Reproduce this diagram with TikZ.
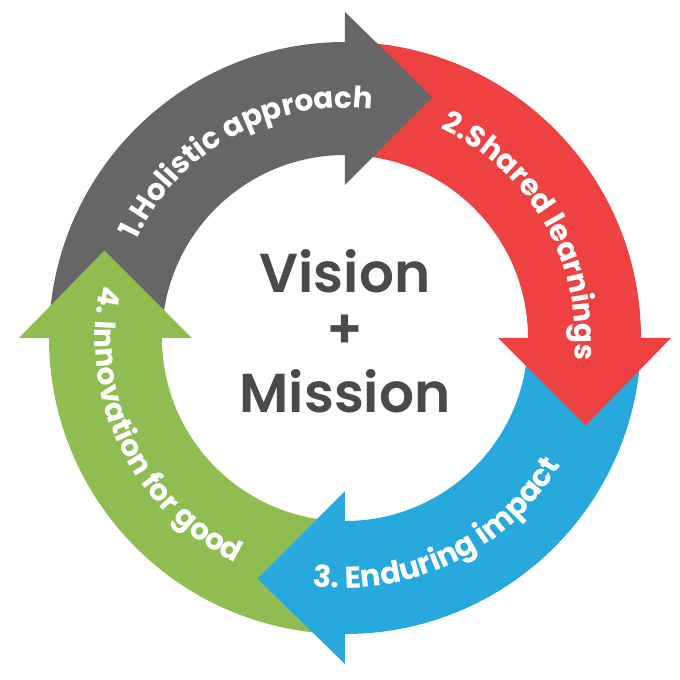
\documentclass[tikz,border=0pt]{standalone}
\usepackage{fontspec}
\setmainfont{Poppins}
\newfontfamily\ringfont{Poppins SemiBold}
\usetikzlibrary{decorations.text}
\definecolor{ringgray}{HTML}{666666}
\definecolor{ringred}{HTML}{EE4242}
\definecolor{ringblue}{HTML}{27A9DE}
\definecolor{ringgreen}{HTML}{8FBD52}
\definecolor{ink}{HTML}{4A4A4A}

\begin{document}
\begin{tikzpicture}[font=\ringfont,
  arctext/.style={decorate,decoration={text along path,text align=center,text color=white}}]
 \def\rout{7.4}
 \def\rin{4.575}
 \def\wout{8.15}
 \def\win{3.825}
 \def\rtip{6.4}
 \useasboundingbox (-8.625,-8.55) rectangle (8.375,8.45);
 % bodies of the four arrows
 \fill[ringgray] (180:\rout) arc[start angle=180,end angle=90,radius=\rout]
   -- (90:\rin) arc[start angle=90,end angle=180,radius=\rin] -- cycle;
 \fill[ringred] (90:\rout) arc[start angle=90,end angle=0,radius=\rout]
   -- (0:\rin) arc[start angle=0,end angle=90,radius=\rin] -- cycle;
 \fill[ringblue] (0:\rout) arc[start angle=0,end angle=-90,radius=\rout]
   -- (-90:\rin) arc[start angle=-90,end angle=0,radius=\rin] -- cycle;
 \fill[ringgreen] (-90:\rout) arc[start angle=-90,end angle=-180,radius=\rout]
   -- (-180:\rin) arc[start angle=-180,end angle=-90,radius=\rin] -- cycle;
 % heads
 \fill[ringgray] (90:\wout) -- (70:\rtip) -- (90:\win) -- cycle;
 \fill[ringred] (0:\wout) -- (-20:\rtip) -- (0:\win) -- cycle;
 \fill[ringblue] (-90:\wout) -- (-110:\rtip) -- (-90:\win) -- cycle;
 \fill[ringgreen] (180:\wout) -- (160:\rtip) -- (180:\win) -- cycle;
 % labels on the ring
 \path[arctext,decoration={text={|\fontsize{21}{25}\selectfont\rmfamily\bfseries|1.Holistic approach}}]
   (179:5.75) arc[start angle=179,end angle=59,radius=5.75];
 \path[arctext,decoration={text={|\fontsize{21}{25}\selectfont\rmfamily\bfseries|2.Shared learnings}}]
   (90:5.75) arc[start angle=90,end angle=-30,radius=5.75];
 \path[arctext,decoration={text={|\fontsize{21.5}{25}\selectfont\rmfamily\bfseries|3. Enduring impact}}]
   (-124:6.25) arc[start angle=-124,end angle=-4,radius=6.25];
 \path[arctext,decoration={text={|\fontsize{21}{25}\selectfont\rmfamily\bfseries|4. Innovation for good}}]
   (146:6.25) arc[start angle=146,end angle=266,radius=6.25];
 % centre
 \node[ink,font=\fontsize{39}{45}\selectfont\ringfont,anchor=base] (vision) at (0,1.125) {Vision};
 \node[ink,font=\fontsize{39}{45}\selectfont\ringfont] (plus) at (0,0.15) {+};
 \node[ink,font=\fontsize{39}{45}\selectfont\ringfont,anchor=base] (mission) at (0,-1.875) {Mission};
\end{tikzpicture}
\end{document}
